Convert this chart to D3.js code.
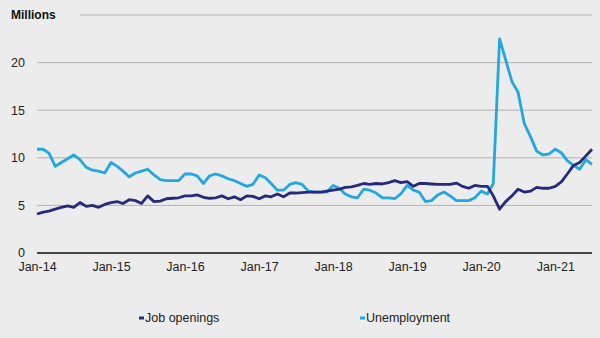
<!DOCTYPE html>
<html>
<head>
<meta charset="utf-8">
<script src="https://cdn.jsdelivr.net/npm/d3@7"></script>
<style>
  body { margin: 0; background: #ececec; }
  svg { display: block; font-family: "Liberation Sans", Arial, sans-serif; }
</style>
</head>
<body>
<svg width="600" height="338"></svg>
<script>
// monthly, Jan-14 .. Jul-21 (millions)
var jobOpenings = [
	4.1, 4.3, 4.4, 4.6, 4.8, 4.95, 4.8, 5.3, 4.9, 5.0, 4.8, 5.1,
	5.3, 5.4, 5.2, 5.6, 5.5, 5.2, 6.0, 5.4, 5.45, 5.7, 5.75, 5.8,
	6.0, 6.0, 6.1, 5.85, 5.75, 5.8, 6.0, 5.7, 5.9, 5.6, 6.0, 5.95,
	5.7, 6.0, 5.9, 6.2, 5.9, 6.3, 6.3, 6.35, 6.4, 6.4, 6.4, 6.5,
	6.6, 6.7, 6.9, 6.95, 7.1, 7.3, 7.2, 7.3, 7.25, 7.4, 7.6, 7.4,
	7.5, 7.0, 7.3, 7.3, 7.25, 7.2, 7.2, 7.2, 7.35, 7.0, 6.8, 7.1,
	7.0, 7.0, 6.0, 4.6, 5.4, 6.0, 6.7, 6.4, 6.5, 6.9, 6.8, 6.8,
	7.0, 7.5, 8.3, 9.2, 9.5, 10.2, 10.9
];
var unemployment = [
	10.9, 10.9, 10.5, 9.1, 9.5, 9.9, 10.3, 9.8, 9.0, 8.7, 8.6, 8.4,
	9.5, 9.1, 8.6, 8.0, 8.4, 8.6, 8.8, 8.2, 7.7, 7.6, 7.6, 7.6,
	8.3, 8.3, 8.1, 7.3, 8.1, 8.3, 8.1, 7.8, 7.6, 7.3, 7.0, 7.2,
	8.2, 7.9, 7.3, 6.6, 6.6, 7.2, 7.4, 7.2, 6.5, 6.4, 6.4, 6.4,
	7.1, 6.8, 6.2, 5.9, 5.8, 6.7, 6.6, 6.3, 5.8, 5.8, 5.7, 6.2,
	7.1, 6.6, 6.4, 5.4, 5.5, 6.1, 6.4, 6.0, 5.5, 5.5, 5.5, 5.8,
	6.5, 6.2, 7.3, 22.5, 20.3, 18.0, 16.9, 13.6, 12.2, 10.7, 10.3, 10.4,
	10.9, 10.5, 9.7, 9.2, 8.8, 9.8, 9.3
];
var yTicks = [0, 5, 10, 15, 20, 25];
var seriesNames = ["Job openings", "Unemployment"];
var seriesColors = ["#262a78", "#22a7df"];

var svg = d3.select("svg"),
	width = +svg.attr("width"),
	height = +svg.attr("height");

var start = new Date(2014, 0, 1);
var months = jobOpenings.map(function (d, i) { return d3.timeMonth.offset(start, i); });

var x = d3.scaleTime()
	.domain([months[0], months[months.length - 1]])
	.range([37, 592]);
var y = d3.scaleLinear()
	.domain([0, 25])
	.range([253, 15]);

// gridlines
svg.append("g")
	.selectAll("line")
	.data(yTicks.filter(function (d) { return d > 0; }))
	.enter()
	.append("line")
	.attr("x1", 37)
	.attr("x2", 592)
	.attr("y1", function (d) { return y(d); })
	.attr("y2", function (d) { return y(d); })
	.style("stroke", "#b3b3b3")
	.style("stroke-width", 1);

// y labels
svg.append("g")
	.selectAll("text")
	.data(yTicks.filter(function (d) { return d < 25; }))
	.enter()
	.append("text")
	.attr("x", 25)
	.attr("y", function (d) { return y(d); })
	.attr("dy", "0.35em")
	.attr("text-anchor", "end")
	.style("font-size", "12.5px")
	.style("fill", "#222")
	.text(function (d) { return d; });

// title, covers start of the top gridline
svg.append("rect")
	.attr("x", 0).attr("y", 0)
	.attr("width", 80).attr("height", 28)
	.style("fill", "#ececec");
svg.append("text")
	.attr("x", 11)
	.attr("y", y(25))
	.attr("dy", "0.35em")
	.style("font-size", "12px")
	.style("font-weight", "bold")
	.style("fill", "#111")
	.text("Millions");

// x axis
var xAxis = svg.append("g")
	.attr("transform", "translate(0," + y(0) + ")")
	.call(d3.axisBottom(x)
		.ticks(d3.timeYear.every(1))
		.tickFormat(d3.timeFormat("%b-%y"))
		.tickSize(0)
		.tickPadding(9));
xAxis.select(".domain")
	.attr("d", "M37,0H592")
	.style("stroke", "#111")
	.style("stroke-width", 1.5);
xAxis.selectAll("text")
	.style("font-size", "12.5px")
	.style("font-family", "Liberation Sans, Arial, sans-serif")
	.style("fill", "#222");

// lines
var line = d3.line()
	.x(function (d, i) { return x(months[i]); })
	.y(function (d) { return y(d); });

[unemployment, jobOpenings].forEach(function (s, k) {
	svg.append("path")
		.datum(s)
		.attr("d", line)
		.style("fill", "none")
		.style("stroke", seriesColors[1 - k])
		.style("stroke-width", 2.8)
		.style("stroke-linejoin", "round");
});

// legend
var legendX = [139, 360];
var legend = svg.append("g")
	.selectAll("g")
	.data(seriesNames)
	.enter()
	.append("g")
	.attr("transform", function (d, i) { return "translate(" + legendX[i] + ",318)"; });
legend.append("rect")
	.attr("x", 0).attr("y", -1.5)
	.attr("width", 5).attr("height", 3)
	.style("fill", function (d, i) { return seriesColors[i]; });
legend.append("text")
	.attr("x", 6)
	.attr("dy", "0.35em")
	.style("font-size", "12.5px")
	.style("fill", "#222")
	.text(function (d) { return d; });
</script>
</body>
</html>
